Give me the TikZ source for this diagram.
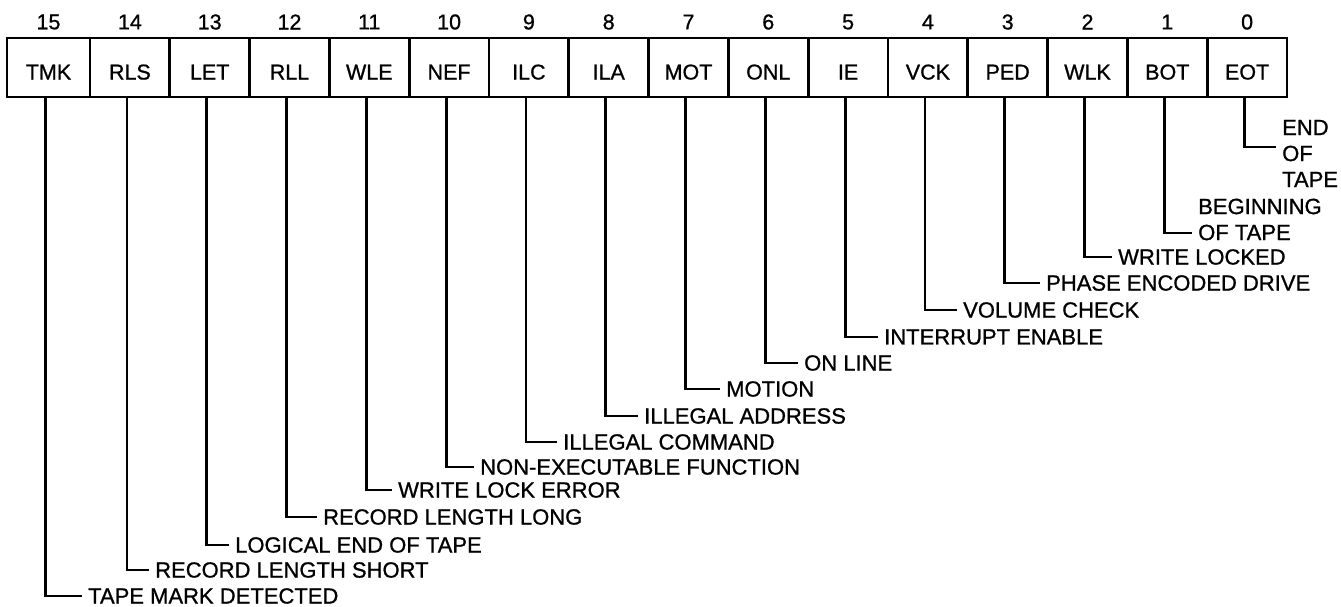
\documentclass[tikz,border=0pt]{standalone}
\usepackage{fontspec}
\setmainfont{Liberation Sans}[FakeBold=0.9]
\begin{document}
\begin{tikzpicture}[x=1pt,y=-1pt,
  cellbox/.style={draw,line width=2.8pt,inner xsep=0pt,inner ysep=0pt,
    text height=41.5pt,text depth=17.5pt,font=\fontsize{21.5}{25}\selectfont},
  bitnum/.style={inner sep=0pt,font=\fontsize{21.5}{24}\selectfont},
  lbl/.style={inner xsep=6pt,inner ysep=0pt,anchor=west,align=left,
    font=\fontsize{22}{26}\selectfont},
  conn/.style={line width=2.8pt}]
\useasboundingbox (0,0) rectangle (1341,606);
% cells and bit numbers
\foreach \k/\ab in {15/TMK,14/RLS,13/LET,12/RLL,11/WLE,10/NEF,9/ILC,8/ILA,
                    7/MOT,6/ONL,5/IE,4/VCK,3/PED,2/WLK,1/BOT,0/EOT}{
  \pgfmathsetmacro\cx{\k==15 ? 48.5 : 129.9+79.8*(14-\k)}
  \pgfmathsetmacro\cw{\k==15 ? 83 : 79.8}
  \node[cellbox,minimum width=\cw pt] (c\k) at (\cx,67.5) {\ab};
  \node[bitnum] (b\k) at (\cx,22) {\k};
}
% single-line labels
\foreach \k/\y/\tx/\txt in {15/596/88/{TAPE MARK DETECTED},
  14/570/155/{RECORD LENGTH SHORT},
  13/545/235/{LOGICAL END OF TAPE},
  12/517/323/{RECORD LENGTH LONG},
  11/490/398/{WRITE LOCK ERROR},
  10/467/480/{NON-EXECUTABLE FUNCTION},
  9/442/563/{ILLEGAL COMMAND},
  8/416/644/{ILLEGAL ADDRESS},
  7/389/726/{MOTION},
  6/363/804/{ON LINE},
  5/337/884/{INTERRUPT ENABLE},
  4/310/963/{VOLUME CHECK},
  3/283/1046/{PHASE ENCODED DRIVE},
  2/257/1118/{WRITE LOCKED}}{
  \node[lbl] (l\k) at (\tx-6,\y) {\txt};
  \draw[conn] ([xshift=-3pt]c\k.south) |- (l\k.west);
}
% multi-line labels
\node[lbl] (l1) at (1192,219.5) {BEGINNING\\OF TAPE};
\draw[conn] ([xshift=-3pt]c1.south) |- ([yshift=-13.5pt]l1.west);
\node[lbl] (l0) at (1276,153.5) {END\\OF\\TAPE};
\draw[conn] ([xshift=-3pt]c0.south) |- ([yshift=6.5pt]l0.west);
\end{tikzpicture}
\end{document}
